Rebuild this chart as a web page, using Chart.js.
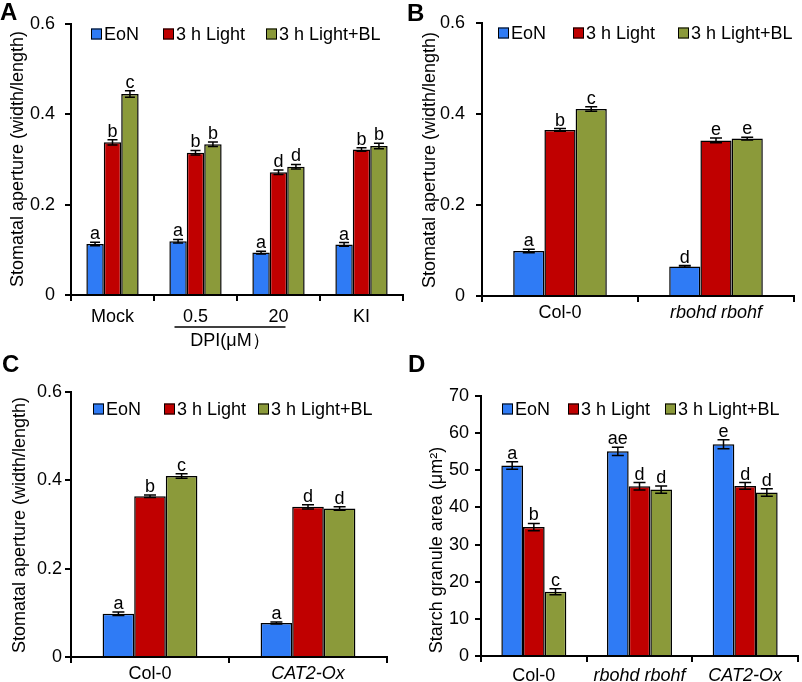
<!DOCTYPE html>
<html>
<head>
<meta charset="utf-8">
<script src="https://cdn.jsdelivr.net/npm/chart.js@4.4.1/dist/chart.umd.min.js"></script>
<style>
  body { margin: 0; background: #fff; }
  #wrap { position: relative; width: 802px; height: 682px; }
  #wrap canvas { position: absolute; left: 0; top: 0; }
</style>
</head>
<body>
<div id="wrap">
  <canvas id="chartA" width="802" height="682"></canvas>
  <canvas id="chartB" width="802" height="682"></canvas>
  <canvas id="chartC" width="802" height="682"></canvas>
  <canvas id="chartD" width="802" height="682"></canvas>
</div>
<script>
const FONT = '"Liberation Sans", Arial, sans-serif';
Chart.defaults.font.family = FONT;
Chart.defaults.font.size = 18;
Chart.defaults.color = "#000";

const groupNames = ["EoN", "3 h Light", "3 h Light+BL"];
const barColors = ["#2F7BF5", "#C00000", "#8B9A3A"];
const italicCats = ["rbohd rbohf", "CAT2-Ox"];

// panel A
const catsA = ["Mock", "0.5", "20", "KI"];
const eonA = [0.113, 0.119, 0.094, 0.112];
const lightA = [0.338, 0.315, 0.272, 0.322];
const lightBlA = [0.445, 0.334, 0.284, 0.330];
const semA = [[0.004, 0.004, 0.003, 0.004], [0.006, 0.005, 0.005, 0.004], [0.007, 0.005, 0.005, 0.006]];
const lettersA = [["a", "a", "a", "a"], ["b", "b", "d", "b"], ["c", "b", "d", "b"]];
const ticksA = [0, 0.2, 0.4, 0.6];

// panel B
const catsB = ["Col-0", "rbohd rbohf"];
const eonB = [0.099, 0.065];
const lightB = [0.365, 0.342];
const lightBlB = [0.411, 0.346];
const semB = [[0.004, 0.002], [0.003, 0.005], [0.005, 0.003]];
const lettersB = [["a", "d"], ["b", "e"], ["c", "e"]];
const ticksB = [0, 0.2, 0.4, 0.6];

// panel C
const catsC = ["Col-0", "CAT2-Ox"];
const eonC = [0.098, 0.077];
const lightC = [0.364, 0.340];
const lightBlC = [0.410, 0.336];
const semC = [[0.004, 0.002], [0.003, 0.005], [0.005, 0.004]];
const lettersC = [["a", "a"], ["b", "d"], ["c", "d"]];
const ticksC = [0, 0.2, 0.4, 0.6];

// panel D
const catsD = ["Col-0", "rbohd rbohf", "CAT2-Ox"];
const eonD = [51.3, 55.1, 57.0];
const lightD = [34.7, 45.7, 45.8];
const lightBlD = [17.3, 44.8, 44.0];
const semD = [[1.0, 1.1, 1.2], [1.0, 1.0, 0.9], [0.8, 1.0, 1.0]];
const lettersD = [["a", "ae", "e"], ["b", "d", "d"], ["c", "d", "d"]];
const ticksD = [0, 10, 20, 30, 40, 50, 60, 70];

function makeExtras(p) {
  return {
    id: "extras",
    afterDatasetsDraw(chart) {
      const ctx = chart.ctx, y = chart.scales.y, x = chart.scales.x;
      ctx.save();
      ctx.strokeStyle = "#000";
      ctx.fillStyle = "#000";
      ctx.lineWidth = 1.5;
      ctx.font = "18px " + FONT;
      ctx.textAlign = "center";
      ctx.textBaseline = "alphabetic";
      // error bars + letters
      chart.data.datasets.forEach((ds, i) => {
        chart.getDatasetMeta(i).data.forEach((bar, j) => {
          const v = ds.data[j], e = p.sem[i][j];
          const top = y.getPixelForValue(v + e), bot = y.getPixelForValue(v - e);
          ctx.beginPath();
          ctx.moveTo(bar.x, top); ctx.lineTo(bar.x, bot);
          ctx.moveTo(bar.x - p.cap, top); ctx.lineTo(bar.x + p.cap, top);
          ctx.moveTo(bar.x - p.cap, bot); ctx.lineTo(bar.x + p.cap, bot);
          ctx.stroke();
          ctx.fillText(p.letters[i][j], bar.x, top - 3);
        });
      });
      // legend
      ctx.textAlign = "left";
      ctx.textBaseline = "middle";
      ctx.lineWidth = 1;
      groupNames.forEach((name, i) => {
        const bx = p.legendX[i];
        ctx.fillStyle = barColors[i];
        ctx.fillRect(bx, p.legendY - 5.5, 11, 11);
        ctx.strokeRect(bx + 0.5, p.legendY - 5, 10, 10);
        ctx.fillStyle = "#000";
        ctx.fillText(name, bx + 13, p.legendY + 1);
      });
      // y title
      ctx.save();
      ctx.translate(p.titleX, p.titleY);
      ctx.rotate(-Math.PI / 2);
      ctx.textAlign = "center";
      ctx.fillText(p.yTitle, 0, 0);
      ctx.restore();
      // panel letter
      ctx.font = "bold 24px " + FONT;
      ctx.textBaseline = "alphabetic";
      ctx.fillText(p.tag, p.tagX, p.tagY);
      // DPI bracket under two categories
      if (p.bracket) {
        const x1 = x.getPixelForValue(p.bracket[0]) - 21;
        const x2 = x.getPixelForValue(p.bracket[1]) + 7;
        ctx.lineWidth = 1.5;
        ctx.beginPath();
        ctx.moveTo(x1, 327); ctx.lineTo(x2, 327);
        ctx.stroke();
        ctx.font = "18px " + FONT;
        ctx.textAlign = "center";
        ctx.textBaseline = "middle";
        ctx.fillText(p.bracketText, (x1 + x2) / 2, 341);
      }
      ctx.restore();
    }
  };
}

function makeChart(id, p) {
  return new Chart(document.getElementById(id), {
    type: "bar",
    data: {
      labels: p.cats,
      datasets: p.series.map((vals, i) => ({
        label: groupNames[i],
        data: vals,
        backgroundColor: barColors[i],
        borderColor: "#000",
        borderWidth: 1.5,
        categoryPercentage: p.catPct,
        barPercentage: 1
      }))
    },
    options: {
      responsive: false,
      animation: false,
      layout: { padding: { left: 0, top: p.area.top, right: 802 - p.area.right, bottom: 0 } },
      plugins: { legend: { display: false }, tooltip: { enabled: false } },
      scales: {
        x: {
          offset: true,
          grid: { offset: true, drawOnChartArea: false, tickLength: 6, color: "#000", lineWidth: 2 },
          border: { color: "#000", width: 2 },
          ticks: {
            color: "#000",
            padding: p.xPad,
            maxRotation: 0,
            autoSkip: false,
            font: (c) => ({ family: FONT, size: 18, style: italicCats.includes(p.cats[c.index]) ? "italic" : "normal" })
          },
          afterFit: (s) => { s.height = 682 - p.area.bottom; }
        },
        y: {
          min: 0,
          max: p.yTicks[p.yTicks.length - 1],
          afterBuildTicks: (s) => { s.ticks = p.yTicks.map((v) => ({ value: v })); },
          grid: { drawOnChartArea: false, tickLength: 6, color: "#000", lineWidth: 2 },
          border: { color: "#000", width: 2 },
          ticks: {
            color: "#000",
            padding: p.yPad,
            font: () => ({ family: FONT, size: 18 }),
            callback: (v) => String(v)
          },
          afterFit: (s) => { s.width = p.area.left; }
        }
      }
    },
    plugins: [makeExtras(p)]
  });
}

makeChart("chartA", {
  cats: catsA, series: [eonA, lightA, lightBlA], sem: semA, letters: lettersA, yTicks: ticksA,
  area: { left: 71, top: 24, right: 403, bottom: 295 }, catPct: 0.63, cap: 5,
  xPad: 5, yPad: 10, legendX: [91, 163, 266], legendY: 34,
  yTitle: "Stomatal aperture (width/length)", titleX: 18, titleY: 159,
  tag: "A", tagX: 0, tagY: 20, bracket: [1, 2], bracketText: "DPI(μM）"
});
makeChart("chartB", {
  cats: catsB, series: [eonB, lightB, lightBlB], sem: semB, letters: lettersB, yTicks: ticksB,
  area: { left: 482, top: 23, right: 794, bottom: 296 }, catPct: 0.6, cap: 6,
  xPad: 0, yPad: 11, legendX: [498, 573, 678], legendY: 33,
  yTitle: "Stomatal aperture (width/length)", titleX: 430, titleY: 160,
  tag: "B", tagX: 407, tagY: 21
});
makeChart("chartC", {
  cats: catsC, series: [eonC, lightC, lightBlC], sem: semC, letters: lettersC, yTicks: ticksC,
  area: { left: 71, top: 392, right: 387, bottom: 657 }, catPct: 0.6, cap: 6,
  xPad: 0, yPad: 3, legendX: [93, 164, 258], legendY: 409,
  yTitle: "Stomatal aperture (width/length)", titleX: 20, titleY: 525,
  tag: "C", tagX: 2, tagY: 372
});
makeChart("chartD", {
  cats: catsD, series: [eonD, lightD, lightBlD], sem: semD, letters: lettersD, yTicks: ticksD,
  area: { left: 481, top: 396, right: 798, bottom: 656 }, catPct: 0.615, cap: 6,
  xPad: 3, yPad: 6, legendX: [502, 568, 665], legendY: 409,
  yTitle: "Starch granule area (μm²)", titleX: 437, titleY: 550,
  tag: "D", tagX: 408, tagY: 372
});
</script>
</body>
</html>
